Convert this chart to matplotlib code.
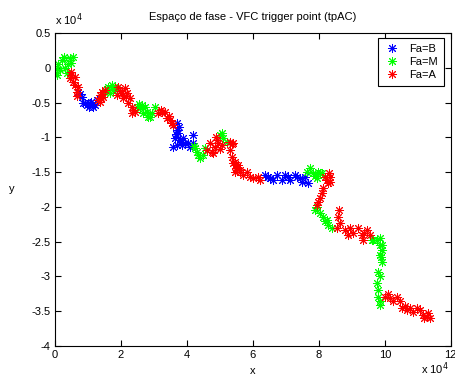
import matplotlib
matplotlib.use('Agg')
import matplotlib.pyplot as plt

plt.rcParams['font.family'] = ['Liberation Sans', 'DejaVu Sans']

# values in units of 1e4
blue_x = [0.7, 0.82, 0.85, 0.97, 1.06, 1.15, 1.1, 0.91, 1.27, 1.21, 0.76, 1.03,
          3.7, 3.7, 3.73, 3.64, 3.79, 3.7, 3.85, 3.94, 4.03, 4.18, 4.18, 3.88, 3.58, 4.09, 3.76, 3.67, 3.82,
          6.36, 6.52, 6.73, 6.88, 6.97, 7.12, 7.27, 7.42, 7.58, 7.67, 6.6, 7.48, 6.45, 7.05, 7.35]
blue_y = [-0.35, -0.42, -0.5, -0.54, -0.5, -0.56, -0.49, -0.51, -0.46, -0.53, -0.38, -0.57,
          -0.79, -0.89, -0.94, -1.01, -1.04, -1.11, -1.11, -1.08, -1.08, -0.97, -1.08, -1.01, -1.14, -1.14, -0.85, -0.95, -1.06,
          -1.54, -1.59, -1.54, -1.61, -1.54, -1.61, -1.54, -1.59, -1.57, -1.66, -1.61, -1.64, -1.57, -1.57, -1.57]

green_x = [0.06, 0.2, 0.3, 0.45, 0.5, 0.15, 0.0, 0.36, 0.1, 0.27, 0.4, 0.55, 0.05,
           1.52, 1.61, 1.73, 1.82, 1.67, 1.88, 1.58, 1.76,
           2.48, 2.58, 2.73, 2.79, 2.67, 2.82, 2.64, 2.94, 3.03, 2.88, 2.55,
           4.24, 4.3, 4.39, 4.48, 4.55, 4.34, 4.2,
           5.0, 5.09, 5.21, 5.05,
           7.73, 7.82, 7.97, 7.94, 8.09, 8.03, 8.18, 7.88, 7.65,
           7.88, 8.03, 8.12, 8.24, 8.27, 8.39, 8.18, 7.95,
           9.6, 9.76, 9.85, 9.64, 9.85, 9.91, 9.85, 9.91, 9.88, 9.79, 9.85, 9.76, 9.79, 9.79, 9.85, 9.85, 9.92]
green_y = [-0.1, 0.11, 0.0, 0.14, 0.07, -0.03, -0.07, -0.07, 0.05, 0.15, 0.05, 0.15, -0.02,
           -0.35, -0.28, -0.25, -0.28, -0.36, -0.29, -0.31, -0.32,
           -0.56, -0.58, -0.56, -0.63, -0.65, -0.71, -0.53, -0.65, -0.56, -0.71, -0.52,
           -1.15, -1.21, -1.3, -1.25, -1.15, -1.26, -1.12,
           -0.97, -1.01, -1.07, -0.94,
           -1.44, -1.51, -1.5, -1.58, -1.51, -1.51, -1.57, -1.55, -1.5,
           -2.04, -2.09, -2.14, -2.19, -2.26, -2.3, -2.2, -2.0,
           -2.47, -2.47, -2.55, -2.47, -2.45, -2.55, -2.69, -2.79, -2.72, -2.93, -3.0, -3.09, -3.19, -3.29, -3.36, -3.41, -2.62]

red_x = [0.5, 0.45, 0.6, 0.55, 0.7, 0.67, 0.66, 0.5, 0.62,
         1.3, 1.36, 1.42, 1.45, 1.52, 1.36, 1.4,
         1.91, 1.88, 2.03, 2.12, 2.18, 2.06, 2.27, 2.21, 2.33, 2.36, 2.33, 2.42, 1.97, 2.15,
         3.12, 3.24, 3.33, 3.39, 3.48, 3.55, 3.58, 3.2, 3.45,
         4.61, 4.7, 4.76, 4.85, 4.91, 4.94, 4.79, 5.06, 5.3, 5.39, 5.3, 5.36, 5.45, 5.52, 5.61,
         5.82, 5.39, 5.5, 5.61, 5.7, 5.91, 6.0, 6.15, 6.21, 5.36, 4.88, 5.0, 5.47, 5.55,
         8.24, 8.18, 8.33, 8.12, 8.09, 8.03, 8.33, 8.27, 7.97, 7.94, 8.3,
         8.58, 8.64, 8.55, 8.79, 8.94, 9.03, 9.18, 9.3, 9.45, 9.55, 8.88, 9.33, 8.6, 9.37,
         10.0, 10.15, 10.24, 10.36, 10.45, 10.52, 10.67, 10.76, 10.85, 10.97, 11.06, 11.15,
         11.27, 11.3, 11.36, 11.2, 10.1, 10.6]
red_y = [-0.06, -0.15, -0.13, -0.2, -0.28, -0.35, -0.4, -0.1, -0.25,
         -0.46, -0.39, -0.35, -0.42, -0.32, -0.49, -0.44,
         -0.28, -0.39, -0.36, -0.29, -0.36, -0.43, -0.43, -0.5, -0.56, -0.61, -0.65, -0.63, -0.33, -0.4,
         -0.65, -0.63, -0.63, -0.72, -0.75, -0.79, -0.82, -0.6, -0.7,
         -1.18, -1.08, -1.21, -1.14, -1.04, -1.08, -1.22, -1.11, -1.07, -1.08, -1.18, -1.28, -1.35, -1.43, -1.47,
         -1.5, -1.37, -1.44, -1.5, -1.54, -1.57, -1.59, -1.57, -1.61, -1.1, -1.0, -1.17, -1.5, -1.4,
         -1.61, -1.57, -1.64, -1.73, -1.8, -1.87, -1.57, -1.66, -1.93, -1.97, -1.52,
         -2.14, -2.23, -2.3, -2.33, -2.3, -2.37, -2.3, -2.4, -2.33, -2.4, -2.4, -2.47, -2.05, -2.37,
         -3.29, -3.31, -3.36, -3.29, -3.36, -3.45, -3.48, -3.45, -3.51, -3.45, -3.48, -3.55,
         -3.59, -3.52, -3.6, -3.6, -3.25, -3.42]

labels = ['Fa=B', 'Fa=M', 'Fa=A']

fig = plt.figure(figsize=(4.56, 3.78), dpi=100)
ax = fig.add_axes([0.1206, 0.0847, 0.868, 0.828])

star = (8, 2, 0)  # matlab-like asterisk
ax.plot(blue_x, blue_y, linestyle='none', marker=star, color='#0000ff', markersize=6.5, mew=0.7, label=labels[0])
ax.plot(green_x, green_y, linestyle='none', marker=star, color='#00ff00', markersize=6.5, mew=0.7, label=labels[1])
ax.plot(red_x, red_y, linestyle='none', marker=star, color='#ff0000', markersize=6.5, mew=0.7, label=labels[2])

ax.set_xlim(0, 12)
ax.set_ylim(-4, 0.5)
ax.set_xticks(range(0, 13, 2))
ax.set_yticks([-4, -3.5, -3, -2.5, -2, -1.5, -1, -0.5, 0, 0.5])
ax.set_yticklabels(['-4', '-3.5', '-3', '-2.5', '-2', '-1.5', '-1', '-0.5', '0', '0.5'])
ax.tick_params(direction='in', top=True, right=True, labelsize=8, length=4, width=0.8, pad=3)
for s in ax.spines.values():
    s.set_linewidth(0.8)

ax.set_title('Espaço de fase - VFC trigger point (tpAC)', fontsize=8, pad=9)
ax.set_xlabel('x', fontsize=8, labelpad=4)
ax.set_ylabel('y', fontsize=8, rotation=0, labelpad=14, va='center')

fig.text(55 / 456, 1 - 20 / 378, 'x 10$^4$', fontsize=8, ha='left', va='center')
fig.text(421 / 456, 1 - 369 / 378, 'x 10$^4$', fontsize=8, ha='left', va='center')

leg = ax.legend(loc='upper right', bbox_to_anchor=(0.982, 0.984), borderaxespad=0,
                fontsize=8, fancybox=False, framealpha=1, edgecolor='black',
                handlelength=1.5, numpoints=1, borderpad=0.5, labelspacing=0.3)
leg.get_frame().set_linewidth(0.8)

fig.savefig('out.png', dpi=100)
